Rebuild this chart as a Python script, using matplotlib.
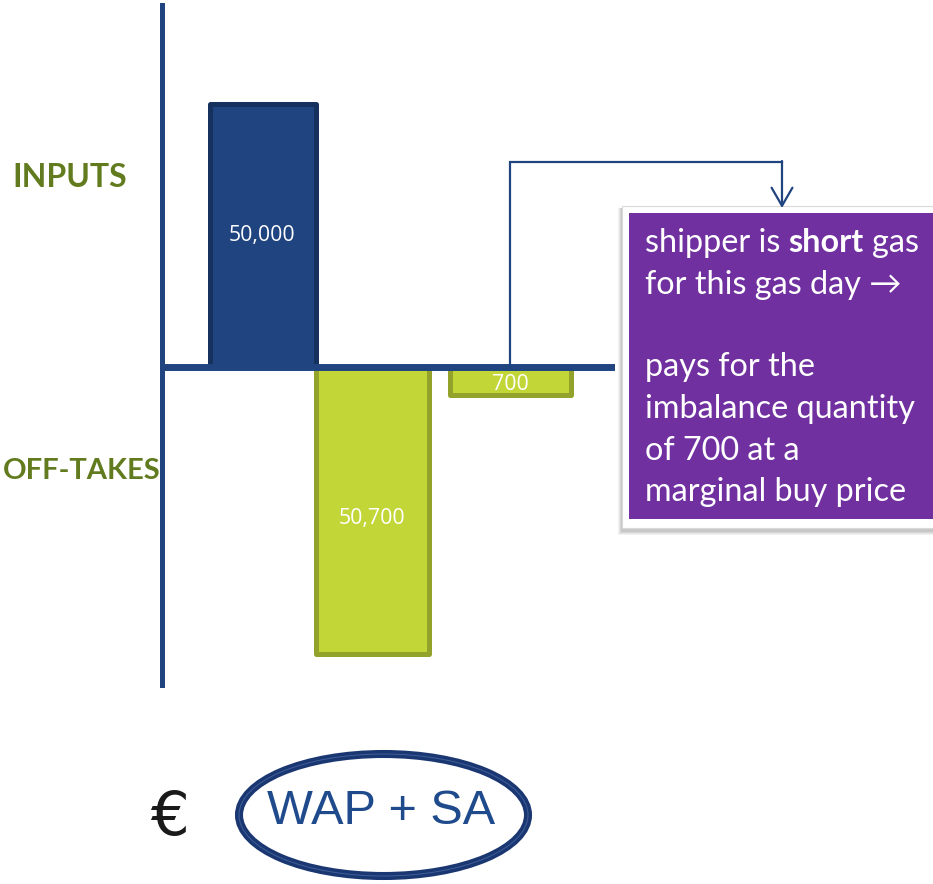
import matplotlib.pyplot as plt
from matplotlib.patches import Rectangle, Ellipse

# values shown on the slide
categories = ["INPUTS", "OFF-TAKES", "IMBALANCE"]
values = [50000, -50700, -700]
value_labels = ["50,000", "50,700", "700"]
# bar lengths as drawn on the slide (thousands, schematic - not to scale)
drawn_len = [50.0, -54.6, -5.4]

box_lines = ["for this gas day \u2192", "", "pays for the", "imbalance quantity",
             "of 700 at a", "marginal buy price"]
formula = "WAP + SA"

navy = "#1F4480"
navy_dark = "#17315F"
green = "#C3D637"
green_dark = "#93A22B"
olive = "#617B1E"
purple = "#7030A0"

fig = plt.figure(figsize=(9.33, 8.84), dpi=100)
fig.patch.set_facecolor("white")

# overlay in pixel units for the annotations
ov = fig.add_axes([0, 0, 1, 1], zorder=1)
ov.set_xlim(0, 933)
ov.set_ylim(884, 0)
ov.axis("off")

# bar axes
ax = fig.add_axes([162 / 933, (884 - 685) / 884, 453 / 933, 680 / 884], zorder=2)
ax.patch.set_alpha(0)
ax.set_xlim(0, 4.53)
ax.set_ylim(-60.57, 68.95)
for s in ["top", "right", "bottom"]:
    ax.spines[s].set_visible(False)
ax.spines["left"].set_color(navy)
ax.spines["left"].set_linewidth(3.6)
ax.set_xticks([])
ax.set_yticks([])

xpos = [1.005, 2.10, 3.48]
widths = [1.06, 1.13, 1.21]
fills = [navy, green, green]
edges = [navy_dark, green_dark, green_dark]
bars = ax.bar(xpos, drawn_len, width=widths, color=fills, edgecolor=edges,
              linewidth=3.6, joinstyle="round", zorder=2)
ax.axhline(0, color=navy, lw=5.0, zorder=3, solid_capstyle="butt")

label_frac = [0.5, 0.53, 0.6]
for x, h, lab, f in zip(xpos, drawn_len, value_labels, label_frac):
    ax.text(x, h * f, lab, color="white", ha="center", va="center",
            fontsize=15.3, family=["Open Sans", "DejaVu Sans"], zorder=4)

# side labels
ov.text(70, 187, categories[0], ha="center", va="baseline", color=olive,
        fontsize=23, fontweight="bold", family=["Lato", "DejaVu Sans"])
ov.text(3, 479, categories[1], ha="left", va="baseline", color=olive,
        fontsize=21, fontweight="bold", family=["Lato", "DejaVu Sans"])

# connector from the imbalance bar to the note
sx, sy = ov.transData.inverted().transform(ax.transData.transform((xpos[2], 0)))
ov.plot([sx, sx, 782], [sy + 5, 162, 162], color=navy, lw=1.6,
        solid_joinstyle="miter")
ov.annotate("", xy=(782, 208), xytext=(782, 161),
            arrowprops=dict(arrowstyle="->,head_length=1.3,head_width=0.75",
                            color=navy, lw=1.6, shrinkA=0, shrinkB=0,
                            mutation_scale=10))

# note box with shadow
for i, a in enumerate([0.05, 0.05, 0.06, 0.07]):
    d = 4 - i
    ov.add_patch(Rectangle((622 - d, 206 + 2), 330, 322 + d + 1, color="black",
                           alpha=a, lw=0))
ov.add_patch(Rectangle((622, 206), 330, 322, facecolor="white",
                       edgecolor="#d9d9d9", lw=0.8))
ov.add_patch(Rectangle((629, 213), 320, 306, facecolor=purple, lw=0))

fam = ["Lato", "DejaVu Sans"]
fs = 23.3
r = fig.canvas.get_renderer()


def text_w(s, weight="normal"):
    t = ov.text(0, 0, s, fontsize=fs, family=fam, fontweight=weight)
    w = t.get_window_extent(renderer=r).width
    t.remove()
    return w


space = text_w("n n") - text_w("nn")
x0 = 645
ov.text(x0, 252, "shipper is", color="white", fontsize=fs, family=fam,
        va="baseline")
x1 = x0 + text_w("shipper is") + space
ov.text(x1, 252, "short", color="white", fontsize=fs, family=fam,
        fontweight="bold", va="baseline")
x2 = x1 + text_w("short", "bold") + space
ov.text(x2, 252, "gas", color="white", fontsize=fs, family=fam, va="baseline")
for i, line in enumerate(box_lines):
    ov.text(x0, 293.5 + 41.5 * i, line, color="white", fontsize=fs,
            family=fam, va="baseline")

# price formula
ov.text(169, 818, "\u20ac", ha="center", va="center", fontsize=44,
        color="#1a1a1a", family=["DejaVu Sans"])
ov.add_patch(Ellipse((383.5, 815), 289, 122, facecolor="none",
                     edgecolor="#1A3772", lw=5.8))
ov.add_patch(Ellipse((383.5, 815), 289, 122, facecolor="none",
                     edgecolor="#3F5F9A", lw=0.7))
ov.text(381, 812, formula, ha="center", va="center", fontsize=35,
        color="#1F4A8C", family=["Liberation Sans"])

fig.savefig("out.png", dpi=100)
